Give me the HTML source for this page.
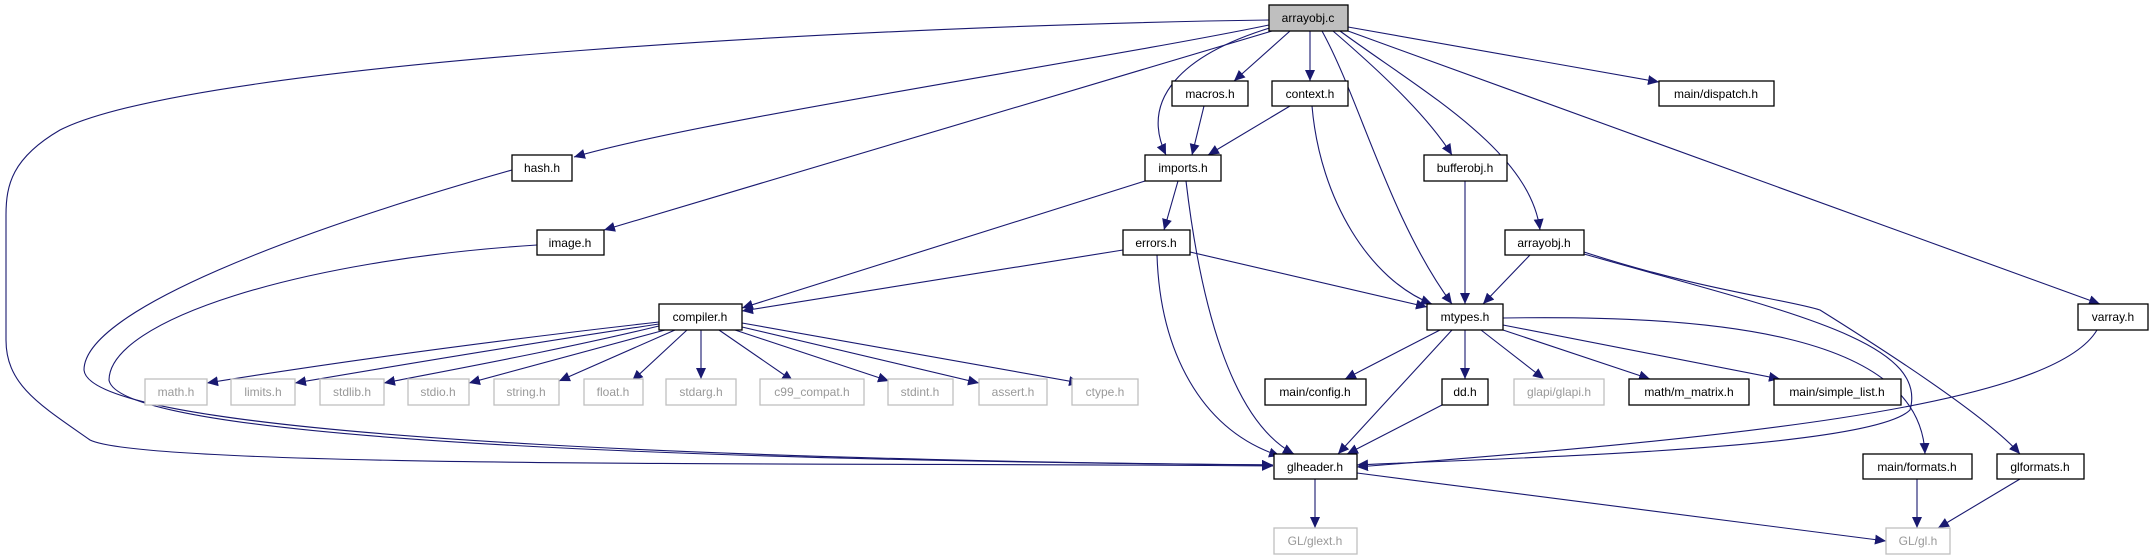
<!DOCTYPE html>
<html><head><meta charset="utf-8"><style>
html,body{margin:0;padding:0;background:#fff;}
svg{display:block;}
text{font-family:"Liberation Sans",sans-serif;font-size:12px;text-anchor:middle;}
</style></head><body>
<svg width="2149" height="560" viewBox="0 0 2149 560" xmlns="http://www.w3.org/2000/svg">
<defs>
<marker id="a" markerUnits="userSpaceOnUse" markerWidth="12" markerHeight="10" refX="11" refY="5" orient="auto">
<polygon points="0,0 11,5 0,10" fill="#191970"/>
</marker>
</defs>
<g fill="none" stroke="#191970" stroke-width="1.1" marker-end="url(#a)">
<path d="M1269,20 C900,25 200,60 60,130 C12,158 6,185 6,215 L6,340 C6,385 40,405 90,440 C150,470 900,462 1273,466"/>
<path d="M1269,25 C1100,60 700,120 574,157"/>
<path d="M1272,31 L604,230"/>
<path d="M1273,27 C1180,55 1140,100 1166,155"/>
<path d="M1290,31 L1234,81"/>
<path d="M1310,31 L1310,81"/>
<path d="M1322,31 C1360,100 1390,220 1452,304"/>
<path d="M1333,31 C1390,80 1430,120 1452,155"/>
<path d="M1340,31 C1420,90 1530,150 1540,230"/>
<path d="M1348,31 L2100,304"/>
<path d="M1348,27 L1659,82"/>
<path d="M1204,106 L1192,155"/>
<path d="M1290,106 L1208,155"/>
<path d="M1312,106 C1320,200 1370,280 1432,304"/>
<path d="M1145,181 L742,308"/>
<path d="M1178,181 L1164,230"/>
<path d="M1186,181 C1200,300 1230,420 1294,454"/>
<path d="M1123,250 L742,311"/>
<path d="M1190,252 L1427,307"/>
<path d="M1157,255 C1160,350 1200,430 1280,456"/>
<path d="M1465,181 L1465,304"/>
<path d="M1530,255 L1483,304"/>
<path d="M1503,318 C1700,315 1920,330 1925,454"/>
<path d="M1584,254 C1780,310 1930,340 1910,410 C1870,450 1500,458 1357,465"/>
<path d="M1584,252 C1700,290 1790,300 1820,310 C1900,360 1990,420 2020,454"/>
<path d="M2097,330 C2050,410 1700,440 1357,467"/>
<path d="M1440,330 L1345,379"/>
<path d="M1452,330 L1338,454"/>
<path d="M1465,330 L1465,379"/>
<path d="M1481,330 L1544,379"/>
<path d="M1503,330 L1650,379"/>
<path d="M1503,325 L1780,379"/>
<path d="M1442,405 L1347,454"/>
<path d="M512,170 C300,230 84,310 84,370 C90,445 900,462 1273,465"/>
<path d="M537,245 C300,260 110,320 109,380 C120,450 900,462 1273,465"/>
<path d="M1315,479 L1315,528"/>
<path d="M1357,473 L1886,541"/>
<path d="M1917,479 L1917,528"/>
<path d="M2020,479 L1938,528"/>
<path d="M659,322 C500,340 350,360 207,383"/>
<path d="M659,324 C520,345 400,365 295,383"/>
<path d="M659,326 C560,350 450,370 384,383"/>
<path d="M665,330 L469,383"/>
<path d="M675,330 L559,381"/>
<path d="M687,330 L632,381"/>
<path d="M701,330 L701,379"/>
<path d="M719,330 L793,381"/>
<path d="M735,330 L889,381"/>
<path d="M742,327 L979,383"/>
<path d="M742,323 L1080,383"/>
</g>
<g stroke-width="1.3">
<rect x="1269" y="5" width="79" height="26" fill="#bfbfbf" stroke="#000"/>
<g fill="#fff" stroke="#000">
<rect x="512" y="155" width="60" height="26"/>
<rect x="537" y="230" width="67" height="25"/>
<rect x="1172" y="81" width="76" height="25"/>
<rect x="1272" y="81" width="76" height="25"/>
<rect x="1659" y="81" width="115" height="25"/>
<rect x="1145" y="155" width="76" height="26"/>
<rect x="1424" y="155" width="83" height="26"/>
<rect x="1123" y="230" width="67" height="25"/>
<rect x="1505" y="230" width="79" height="25"/>
<rect x="659" y="304" width="83" height="26"/>
<rect x="1427" y="304" width="76" height="26"/>
<rect x="2078" y="304" width="70" height="26"/>
<rect x="1265" y="379" width="101" height="26"/>
<rect x="1442" y="379" width="46" height="26"/>
<rect x="1629" y="379" width="120" height="26"/>
<rect x="1774" y="379" width="127" height="26"/>
<rect x="1274" y="454" width="83" height="25"/>
<rect x="1863" y="454" width="109" height="25"/>
<rect x="1997" y="454" width="87" height="25"/>
</g>
<g fill="#fff" stroke="#bfbfbf">
<rect x="145" y="379" width="62" height="26"/>
<rect x="231" y="379" width="64" height="26"/>
<rect x="320" y="379" width="64" height="26"/>
<rect x="408" y="379" width="61" height="26"/>
<rect x="494" y="379" width="65" height="26"/>
<rect x="584" y="379" width="59" height="26"/>
<rect x="666" y="379" width="70" height="26"/>
<rect x="760" y="379" width="104" height="26"/>
<rect x="888" y="379" width="65" height="26"/>
<rect x="979" y="379" width="68" height="26"/>
<rect x="1072" y="379" width="66" height="26"/>
<rect x="1514" y="379" width="90" height="26"/>
<rect x="1274" y="528" width="83" height="26"/>
<rect x="1886" y="528" width="64" height="26"/>
</g>
</g>
<g fill="#000">
<text x="1308" y="22">arrayobj.c</text>
<text x="542" y="172">hash.h</text>
<text x="570" y="247">image.h</text>
<text x="1210" y="98">macros.h</text>
<text x="1310" y="98">context.h</text>
<text x="1716" y="98">main/dispatch.h</text>
<text x="1183" y="172">imports.h</text>
<text x="1465" y="172">bufferobj.h</text>
<text x="1156" y="247">errors.h</text>
<text x="1544" y="247">arrayobj.h</text>
<text x="700" y="321">compiler.h</text>
<text x="1465" y="321">mtypes.h</text>
<text x="2113" y="321">varray.h</text>
<text x="1315" y="396">main/config.h</text>
<text x="1465" y="396">dd.h</text>
<text x="1689" y="396">math/m_matrix.h</text>
<text x="1837" y="396">main/simple_list.h</text>
<text x="1315" y="471">glheader.h</text>
<text x="1917" y="471">main/formats.h</text>
<text x="2040" y="471">glformats.h</text>
</g>
<g fill="#999">
<text x="176" y="396">math.h</text>
<text x="263" y="396">limits.h</text>
<text x="352" y="396">stdlib.h</text>
<text x="438" y="396">stdio.h</text>
<text x="526" y="396">string.h</text>
<text x="613" y="396">float.h</text>
<text x="701" y="396">stdarg.h</text>
<text x="812" y="396">c99_compat.h</text>
<text x="920" y="396">stdint.h</text>
<text x="1013" y="396">assert.h</text>
<text x="1105" y="396">ctype.h</text>
<text x="1559" y="396">glapi/glapi.h</text>
<text x="1315" y="545">GL/glext.h</text>
<text x="1918" y="545">GL/gl.h</text>
</g>
</svg>
</body></html>
